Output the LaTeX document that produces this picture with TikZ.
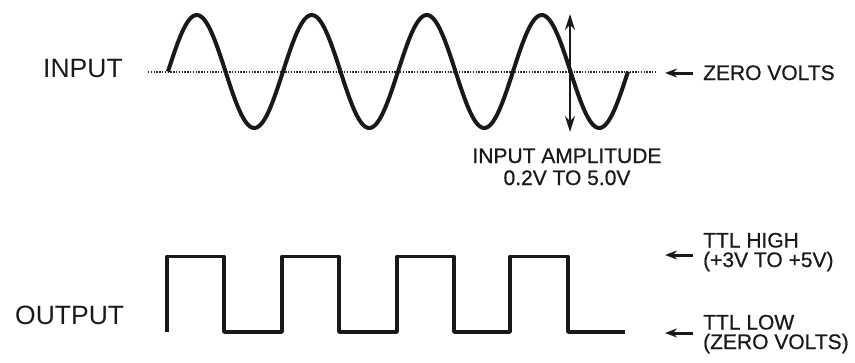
\documentclass[tikz,border=0pt]{standalone}
\usepackage{fontspec}
\setmainfont{Liberation Sans}
\newfontfamily\lblfont{Liberation Sans}[FakeBold=0.7]
\usetikzlibrary{arrows.meta}
\begin{document}
\begin{tikzpicture}[x=1pt,y=-1pt,
  lbl/.style={inner sep=0pt, font=\lblfont\fontsize{21}{19.5}\selectfont, text=black!90},
  big/.style={inner sep=0pt, font=\fontsize{26.5}{30}\selectfont, text=black!90},
  wave/.style={line width=4pt, line join=round, color=black!90},
  sqwave/.style={line width=3.6pt, line join=round, color=black!90},
  pointer/.style={line width=3pt, color=black!90, -{Stealth[length=12pt,width=9pt]}},
  amp/.style={line width=2.2pt, color=black!90, {Stealth[length=16pt,width=10pt]}-{Stealth[length=16pt,width=10pt]}}]
\useasboundingbox (0,0) rectangle (855,362);
% labels
\node[big, anchor=base west] (input) at (43,77) {INPUT};
\node[big, anchor=base west] (output) at (15,324) {OUTPUT};
\node[lbl, anchor=base west] (zero) at (703,80) {ZERO VOLTS};
\node[lbl, font=\lblfont\fontsize{21}{22}\selectfont, anchor=base, align=center] (ampl) at (567,185) {INPUT AMPLITUDE\\0.2V TO 5.0V};
\node[lbl, anchor=base west, align=left] (high) at (703,267) {TTL HIGH\\(+3V TO +5V)};
\node[lbl, anchor=base west, align=left] (low) at (703,349) {TTL LOW\\(ZERO VOLTS)};
% zero line
\coordinate (z0) at (148,72);
\coordinate (z1) at (655,72);
\draw[line width=1.8pt, color=black!85, dash pattern=on 1.4pt off 1.4pt] (z0) -- (z1);
% sine
\draw[wave] plot[domain=0:460, samples=240] ({168+\x}, {71.5-56.5*sin(\x*3.130435)});
% amplitude arrow
\coordinate (at) at (570,14);
\coordinate (ab) at (570,132);
\draw[amp] (at) -- (ab);
% square wave
\draw[sqwave] (167,332) -- (167,256.5) -- (224,256.5) -- (224,332) -- (282,332) -- (282,256.5) -- (339,256.5) -- (339,332) -- (397,332) -- (397,256.5) -- (454,256.5) -- (454,332) -- (510,332) -- (510,256.5) -- (568,256.5) -- (568,332) -- (625,332);
% pointers
\coordinate (p1) at (693,73);
\coordinate (q1) at (665,73);
\draw[pointer] (p1) -- (q1);
\coordinate (p2) at (693,255);
\coordinate (q2) at (665,255);
\draw[pointer] (p2) -- (q2);
\coordinate (p3) at (693,333);
\coordinate (q3) at (665,333);
\draw[pointer] (p3) -- (q3);
\end{tikzpicture}
\end{document}
